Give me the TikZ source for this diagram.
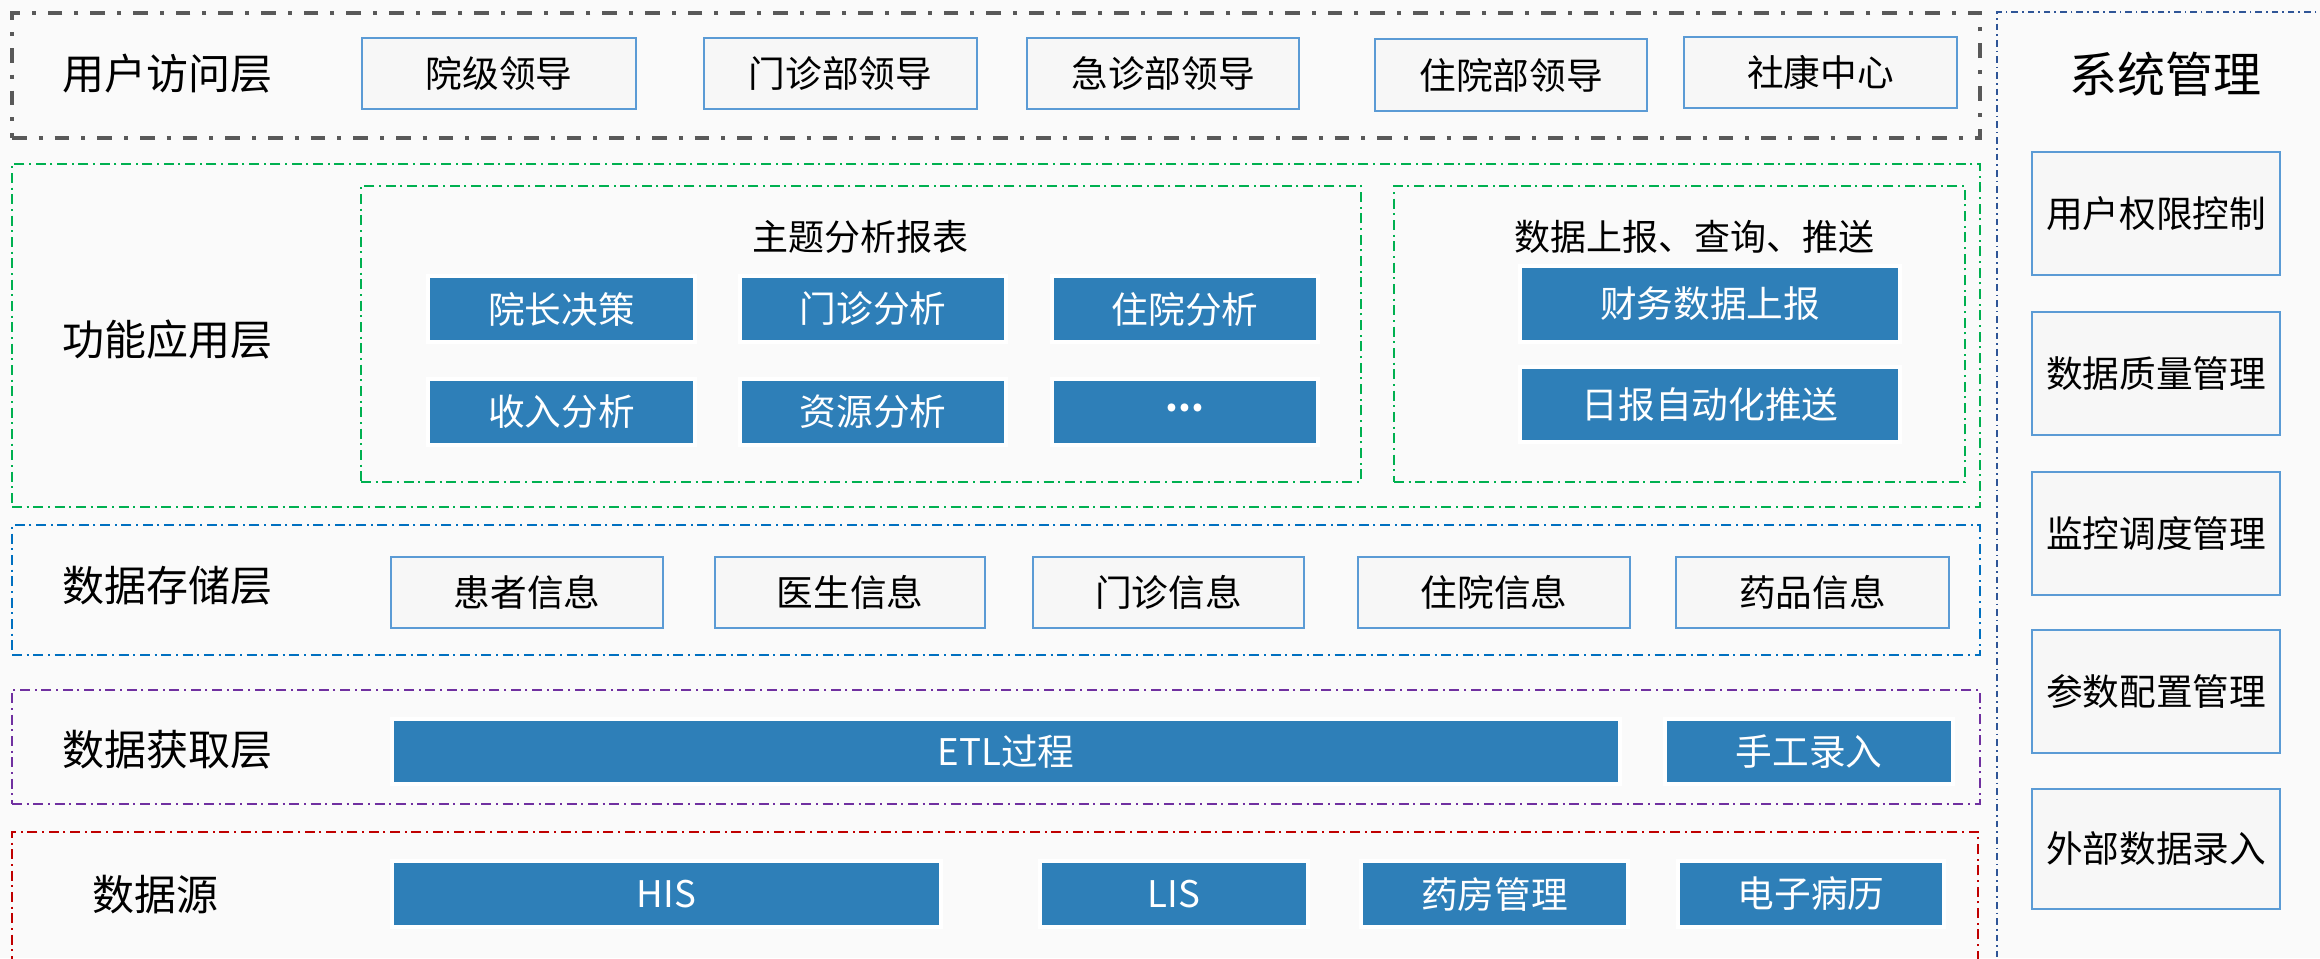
\documentclass[tikz,border=0pt]{standalone}
\usepackage{fontspec}
\setmainfont{Noto Sans CJK SC}
\definecolor{bgc}{HTML}{FAFAFA}
\definecolor{grayL}{HTML}{595959}
\definecolor{greenL}{HTML}{00B050}
\definecolor{blueL}{HTML}{0070C0}
\definecolor{purpleL}{HTML}{7030A0}
\definecolor{redL}{HTML}{C00000}
\definecolor{sysL}{HTML}{2F5597}
\definecolor{boxB}{HTML}{2E7FB8}
\definecolor{boxEdge}{HTML}{5B9BD5}
\definecolor{boxFill}{HTML}{F7F7F7}
\newcommand\bx[7]{\node[#1,minimum width={(#4-#2)*0.75pt},minimum height={(#5-#3)*0.75pt}] (#6) at ({(#2+#4)/2},{(#3+#5)/2}) {#7};}
\tikzset{
  base/.style={rectangle,inner sep=0pt,outer sep=0pt},
  layer/.style={base,line width=1.7pt,dash pattern=on 7.5pt off 3.5pt on 1.5pt off 3.5pt},
  grayframe/.style={base,draw=grayL,line width=2.6pt,dash pattern=on 11pt off 9pt on 3pt off 9pt},
  wbox/.style={base,draw=boxEdge,fill=boxFill,line width=1.9pt,font=\fontsize{27.5}{32}\selectfont},
  bbox/.style={base,draw=white,fill=boxB,line width=3pt,text=white,font=\fontsize{27.5}{32}\selectfont},
  lbl/.style={inner sep=0pt,font=\fontsize{31.5}{36}\selectfont},
  ttl/.style={inner sep=0pt,font=\fontsize{27}{32}\selectfont},
}
\begin{document}
\begin{tikzpicture}[x=0.75pt,y=-0.75pt]
\useasboundingbox (0,0) rectangle (2320,958);
\fill[bgc] (0,0) rectangle (2320,958);
\begin{scope}
\clip (0,0) rectangle (2320,958);
% user access layer
\bx{grayframe}{12}{13}{1980}{138}{L1}{}
\node[lbl] (l1) at (167,74) {用户访问层};
\bx{wbox}{362}{38}{636}{109}{u1}{院级领导}
\bx{wbox}{704}{38}{977}{109}{u2}{门诊部领导}
\bx{wbox}{1027}{38}{1299}{109}{u3}{急诊部领导}
\bx{wbox}{1375}{39}{1647}{111}{u4}{住院部领导}
\bx{wbox}{1684}{37}{1957}{108}{u5}{社康中心}
% function layer
\bx{layer,draw=greenL}{12}{164}{1980}{507}{L2}{}
\node[lbl] (l2) at (167,340) {功能应用层};
\bx{layer,draw=greenL}{361}{186}{1361}{482}{F1}{}
\node[ttl] (t1) at (860,237) {主题分析报表};
\bx{bbox}{428}{276}{695}{342}{f1}{院长决策}
\bx{bbox}{740}{276}{1006}{342}{f2}{门诊分析}
\bx{bbox}{1052}{276}{1318}{342}{f3}{住院分析}
\bx{bbox}{428}{379}{695}{445}{f4}{收入分析}
\bx{bbox}{740}{379}{1006}{445}{f5}{资源分析}
\bx{bbox}{1052}{379}{1318}{445}{f6}{\raisebox{0.25em}{\textbf{...}}}
\bx{layer,draw=greenL}{1394}{186}{1965}{482}{F2}{}
\node[ttl] (t2) at (1694,237) {数据上报、查询、推送};
\bx{bbox}{1520}{266}{1900}{342}{f7}{财务数据上报}
\bx{bbox}{1520}{367}{1900}{442}{f8}{日报自动化推送}
% data storage layer
\bx{layer,draw=blueL}{12}{525}{1980}{655}{L3}{}
\node[lbl] (l3) at (167,586) {数据存储层};
\bx{wbox}{391}{557}{663}{628}{s1}{患者信息}
\bx{wbox}{715}{557}{985}{628}{s2}{医生信息}
\bx{wbox}{1033}{557}{1304}{628}{s3}{门诊信息}
\bx{wbox}{1358}{557}{1630}{628}{s4}{住院信息}
\bx{wbox}{1676}{557}{1949}{628}{s5}{药品信息}
% data acquisition layer
\bx{layer,draw=purpleL}{12}{690}{1980}{804}{L4}{}
\node[lbl] (l4) at (167,750) {数据获取层};
\bx{bbox}{392}{719}{1620}{784}{a1}{ETL过程}
\bx{bbox}{1665}{719}{1953}{784}{a2}{手工录入}
% data source layer
\bx{layer,draw=redL}{12}{832}{1978}{1000}{L5}{}
\node[lbl] (l5) at (155,895) {数据源};
\bx{bbox}{392}{861}{941}{927}{d1}{HIS}
\bx{bbox}{1040}{861}{1308}{927}{d2}{LIS}
\bx{bbox}{1361}{861}{1628}{927}{d3}{药房管理}
\bx{bbox}{1678}{861}{1944}{927}{d4}{电子病历}
% system management
\bx{layer,draw=sysL,line width=1.3pt,dash pattern=on 5pt off 3pt on 1.2pt off 3pt}{1997}{12}{2400}{1000}{S}{}
\node[inner sep=0pt,font=\fontsize{36}{42}\selectfont] (st) at (2165,74) {系统管理};
\bx{wbox}{2032}{152}{2280}{275}{m1}{用户权限控制}
\bx{wbox}{2032}{312}{2280}{435}{m2}{数据质量管理}
\bx{wbox}{2032}{472}{2280}{595}{m3}{监控调度管理}
\bx{wbox}{2032}{630}{2280}{753}{m4}{参数配置管理}
\bx{wbox}{2032}{789}{2280}{909}{m5}{外部数据录入}
\end{scope}
\end{tikzpicture}
\end{document}
